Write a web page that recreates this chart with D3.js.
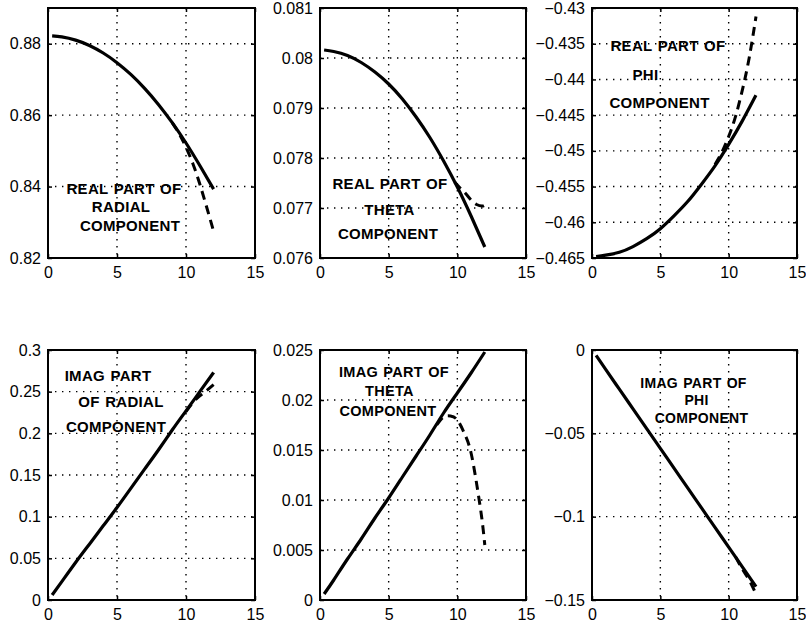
<!DOCTYPE html>
<html>
<head>
<meta charset="utf-8">
<script src="https://cdn.jsdelivr.net/npm/d3@7"></script>
<style>
  html, body { margin: 0; padding: 0; background: #fff; }
  svg { display: block; }
  text { font-family: "Liberation Sans", Arial, Helvetica, sans-serif; fill: #000; }
</style>
</head>
<body>
<svg id="chart" width="806" height="625"></svg>
<script>
// ---------------- DATA ----------------
const xTickValues = [0, 5, 10, 15];
const xTickLabels = ["0", "5", "10", "15"];
const xDomain = [0, 15];

const solidX = [0.3, 1, 2, 3, 4, 5, 6, 7, 8, 9, 10, 11, 12];

// Real part of radial component
const realRadialSolid = [0.8822, 0.8819, 0.8810, 0.8795, 0.8774, 0.8747, 0.8714, 0.8675, 0.8630, 0.8579, 0.8522, 0.8459, 0.8393];
const realRadialDashX = [9, 9.5, 10, 10.5, 11, 11.5, 12];
const realRadialDash = [0.8579, 0.8548, 0.8510, 0.8464, 0.8407, 0.8342, 0.8275];
const realRadialTicks = [0.82, 0.84, 0.86, 0.88];
const realRadialTickLabels = ["0.82", "0.84", "0.86", "0.88"];
const realRadialDomain = [0.82, 0.89];
const realRadialNote = ["REAL PART OF", "RADIAL", "COMPONENT"];

// Real part of theta component
const realThetaSolid = [0.08016, 0.08013, 0.08005, 0.07991, 0.07972, 0.07948, 0.07918, 0.07882, 0.07841, 0.07794, 0.07742, 0.07684, 0.07622];
const realThetaDashX = [9.8, 10.2, 10.6, 11, 11.4, 11.8, 12];
const realThetaDash = [0.07752, 0.07740, 0.07729, 0.07716, 0.07707, 0.07704, 0.07706];
const realThetaTicks = [0.076, 0.077, 0.078, 0.079, 0.080, 0.081];
const realThetaTickLabels = ["0.076", "0.077", "0.078", "0.079", "0.08", "0.081"];
const realThetaDomain = [0.076, 0.081];
const realThetaNote = ["REAL PART OF", "THETA", "COMPONENT"];

// Real part of phi component
const realPhiSolid = [-0.4648, -0.4646, -0.4642, -0.4634, -0.4623, -0.4609, -0.4591, -0.4571, -0.4547, -0.4521, -0.4491, -0.4458, -0.4422];
const realPhiDashX = [9, 9.5, 10, 10.5, 11, 11.5, 12];
const realPhiDash = [-0.4519, -0.4502, -0.4480, -0.4452, -0.4415, -0.4370, -0.4312];
const realPhiTicks = [-0.465, -0.46, -0.455, -0.45, -0.445, -0.44, -0.435, -0.43];
const realPhiTickLabels = ["\u22120.465", "\u22120.46", "\u22120.455", "\u22120.45", "\u22120.445", "\u22120.44", "\u22120.435", "\u22120.43"];
const realPhiDomain = [-0.465, -0.43];
const realPhiNote = ["REAL PART OF", "PHI", "COMPONENT"];

// Imag part of radial component
const imagRadialSolid = [0.006, 0.022, 0.045, 0.067, 0.089, 0.111, 0.134, 0.157, 0.180, 0.204, 0.227, 0.250, 0.273];
const imagRadialDashX = [10, 10.5, 11, 11.5, 12];
const imagRadialDash = [0.226, 0.237, 0.245, 0.2515, 0.2585];
const imagRadialTicks = [0, 0.05, 0.1, 0.15, 0.2, 0.25, 0.3];
const imagRadialTickLabels = ["0", "0.05", "0.1", "0.15", "0.2", "0.25", "0.3"];
const imagRadialDomain = [0, 0.3];
const imagRadialNote = ["IMAG PART", "OF RADIAL", "COMPONENT"];

// Imag part of theta component
const imagThetaSolid = [0.0006, 0.0020, 0.0041, 0.0061, 0.0082, 0.0102, 0.0123, 0.0144, 0.0165, 0.0187, 0.0207, 0.0227, 0.0248];
const imagThetaDashX = [8.5, 9, 9.5, 10, 10.5, 11, 11.5, 11.8, 12];
const imagThetaDash = [0.0175, 0.0183, 0.0184, 0.0180, 0.0167, 0.0147, 0.0108, 0.0080, 0.0055];
const imagThetaTicks = [0, 0.005, 0.01, 0.015, 0.02, 0.025];
const imagThetaTickLabels = ["0", "0.005", "0.01", "0.015", "0.02", "0.025"];
const imagThetaDomain = [0, 0.025];
const imagThetaNote = ["IMAG PART OF", "THETA", "COMPONENT"];

// Imag part of phi component
const imagPhiSolid = [-0.0032, -0.0116, -0.0235, -0.0353, -0.0472, -0.0590, -0.0709, -0.0827, -0.0946, -0.1064, -0.1183, -0.1301, -0.1420];
const imagPhiDashX = [10.5, 11, 11.5, 12];
const imagPhiDash = [-0.1240, -0.1315, -0.1380, -0.1465];
const imagPhiTicks = [-0.15, -0.1, -0.05, 0];
const imagPhiTickLabels = ["\u22120.15", "\u22120.1", "\u22120.05", "0"];
const imagPhiDomain = [-0.15, 0];
const imagPhiNote = ["IMAG PART OF", "PHI", "COMPONENT"];

// ---------------- LAYOUT ----------------
const panelH = 250;
const panels = [
  { ox: 48,  oy: 8,   w: 207, solid: realRadialSolid, dashX: realRadialDashX, dash: realRadialDash, domain: realRadialDomain, ticks: realRadialTicks, labels: realRadialTickLabels, note: realRadialNote,
    noteSize: 15, notePos: [[76, 186], [73, 204], [82, 223]] },
  { ox: 320, oy: 8,   w: 206, solid: realThetaSolid, dashX: realThetaDashX, dash: realThetaDash, domain: realThetaDomain, ticks: realThetaTicks, labels: realThetaTickLabels, note: realThetaNote,
    noteSize: 15, notePos: [[70, 181], [69.5, 207], [68, 231]] },
  { ox: 592, oy: 8,   w: 205, solid: realPhiSolid, dashX: realPhiDashX, dash: realPhiDash, domain: realPhiDomain, ticks: realPhiTicks, labels: realPhiTickLabels, note: realPhiNote,
    noteSize: 15, notePos: [[76, 43], [53.5, 72], [67.5, 100]] },
  { ox: 48,  oy: 350, w: 207, solid: imagRadialSolid, dashX: imagRadialDashX, dash: imagRadialDash, domain: imagRadialDomain, ticks: imagRadialTicks, labels: imagRadialTickLabels, note: imagRadialNote,
    noteSize: 15, notePos: [[60, 31], [73, 57], [68, 82]] },
  { ox: 320, oy: 350, w: 206, solid: imagThetaSolid, dashX: imagThetaDashX, dash: imagThetaDash, domain: imagThetaDomain, ticks: imagThetaTicks, labels: imagThetaTickLabels, note: imagThetaNote,
    noteSize: 14.5, notePos: [[74, 27], [69.5, 46], [68, 66]] },
  { ox: 592, oy: 350, w: 205, solid: imagPhiSolid, dashX: imagPhiDashX, dash: imagPhiDash, domain: imagPhiDomain, ticks: imagPhiTicks, labels: imagPhiTickLabels, note: imagPhiNote,
    noteSize: 14, notePos: [[101.5, 38], [104.5, 55], [109.5, 73]] }
];

const svg = d3.select("#chart");

panels.forEach(p => {
  const panelW = p.w;
  const g = svg.append("g").attr("transform", `translate(${p.ox},${p.oy})`);
  const x = d3.scaleLinear().domain(xDomain).range([0, panelW]);
  const y = d3.scaleLinear().domain(p.domain).range([panelH, 0]);

  // grid (dotted)
  const grid = g.append("g").attr("stroke", "#000").attr("stroke-width", 1.4).attr("stroke-dasharray", "1.4,5.6");
  xTickValues.filter(v => v > xDomain[0] && v < xDomain[1]).forEach(v => {
    grid.append("line").attr("x1", x(v)).attr("x2", x(v)).attr("y1", 0).attr("y2", panelH);
  });
  p.ticks.filter(v => v > p.domain[0] + 1e-9 && v < p.domain[1] - 1e-9).forEach(v => {
    grid.append("line").attr("x1", 0).attr("x2", panelW).attr("y1", y(v)).attr("y2", y(v));
  });

  const fmtY = (d) => p.labels[p.ticks.indexOf(d)];
  const fmtX = (d) => xTickLabels[xTickValues.indexOf(d)];

  const left = g.append("g").call(d3.axisLeft(y).tickValues(p.ticks).tickFormat(fmtY).tickSizeInner(-4).tickSizeOuter(0).tickPadding(7));
  const bottom = g.append("g").attr("transform", `translate(0,${panelH})`)
    .call(d3.axisBottom(x).tickValues(xTickValues).tickFormat(fmtX).tickSizeInner(-4).tickSizeOuter(0).tickPadding(9));
  const right = g.append("g").attr("transform", `translate(${panelW},0)`)
    .call(d3.axisRight(y).tickValues(p.ticks).tickFormat("").tickSizeInner(-4).tickSizeOuter(0));
  const top = g.append("g")
    .call(d3.axisTop(x).tickValues(xTickValues).tickFormat("").tickSizeInner(-4).tickSizeOuter(0));
  [left, bottom, right, top].forEach(a => {
    a.select(".domain").remove();
    a.selectAll(".tick line").attr("stroke", "#000").attr("stroke-width", 1.5);
    a.selectAll("text").attr("font-size", 16)
      .attr("font-family", "'Liberation Sans', Arial, Helvetica, sans-serif").attr("fill", "#000");
  });

  // frame
  g.append("rect").attr("x", 0).attr("y", 0).attr("width", panelW).attr("height", panelH)
    .attr("fill", "none").attr("stroke", "#000").attr("stroke-width", 2);

  const line = d3.line().x(d => x(d[0])).y(d => y(d[1])).curve(d3.curveNatural);

  // dashed series
  g.append("path").datum(p.dashX.map((v, i) => [v, p.dash[i]]))
    .attr("d", line).attr("fill", "none").attr("stroke", "#000")
    .attr("stroke-width", 3).attr("stroke-dasharray", "9,6");

  // solid series
  g.append("path").datum(solidX.map((v, i) => [v, p.solid[i]]))
    .attr("d", line).attr("fill", "none").attr("stroke", "#000")
    .attr("stroke-width", 3.2);

  // annotation
  p.note.forEach((t, i) => {
    g.append("text").attr("x", p.notePos[i][0]).attr("y", p.notePos[i][1])
      .attr("text-anchor", "middle").attr("font-size", p.noteSize).attr("font-weight", "bold")
      .attr("letter-spacing", "0.3px").attr("word-spacing", "1px")
      .text(t);
  });
});
</script>
</body>
</html>
